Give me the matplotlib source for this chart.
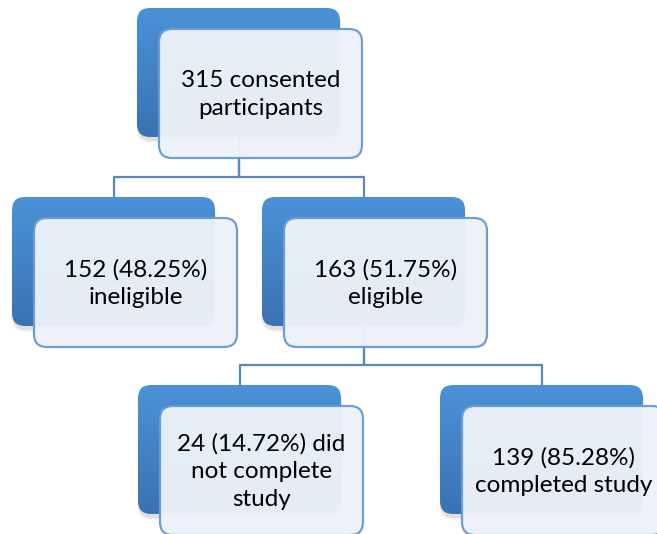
import numpy as np
import matplotlib
matplotlib.use('Agg')
import matplotlib.pyplot as plt
from matplotlib.patches import FancyBboxPatch
from matplotlib.colors import LinearSegmentedColormap

# flowchart content
labels = ['315 consented\nparticipants',
          '152 (48.25%)\nineligible',
          '163 (51.75%)\neligible',
          '24 (14.72%) did\nnot complete\nstudy',
          '139 (85.28%)\ncompleted study']
parents = [None, 0, 0, 2, 2]

# top-left corner of each blue back box (pixels)
box_x = [137, 12, 262, 138, 440]
box_y = [8, 197, 197, 385, 385]

W, H = 203, 129       # box size
DX, DY = 22, 21       # offset of the light front box
R = 13                # corner radius

W_PX, H_PX = 657, 534
fig = plt.figure(figsize=(W_PX / 100, H_PX / 100), dpi=100)
ax = fig.add_axes([0, 0, 1, 1])
ax.set_xlim(0, W_PX)
ax.set_ylim(H_PX, 0)
ax.axis('off')

blue_cmap = LinearSegmentedColormap.from_list('b', ['#4b92d8', '#3a72b2'])
grad = np.linspace(0, 1, 256).reshape(-1, 1)
line_col = '#5a87bf'

# connectors (drawn under the boxes)
for i, p in enumerate(parents):
    if p is None:
        continue
    px = box_x[p] + W / 2
    py = box_y[p] + H
    cx = box_x[i] + W / 2
    cy = box_y[i]
    mid = (box_y[p] + DY + H + cy) / 2 - 1
    ax.plot([px, px, cx, cx], [py, mid, mid, cy], color=line_col, lw=1.6,
            zorder=1, solid_capstyle='butt')

for i, txt in enumerate(labels):
    x0, y0 = box_x[i], box_y[i]
    # soft shadow
    for k, a in enumerate([0.09, 0.06, 0.03]):
        sh = FancyBboxPatch((x0 + 1 - k, y0 + 4 + k), W, H,
                            boxstyle=f'round,pad=0,rounding_size={R}',
                            fc='#555555', ec='none', alpha=a, zorder=2)
        ax.add_patch(sh)
    back = FancyBboxPatch((x0, y0), W, H,
                          boxstyle=f'round,pad=0,rounding_size={R}',
                          fc='none', ec='none', zorder=3)
    ax.add_patch(back)
    im = ax.imshow(grad, cmap=blue_cmap, aspect='auto',
                   extent=(x0, x0 + W, y0 + H, y0), zorder=3)
    im.set_clip_path(back)

    front = FancyBboxPatch((x0 + DX, y0 + DY), W, H,
                           boxstyle=f'round,pad=0,rounding_size={R}',
                           fc='#edf2f9', ec='#6b9ad0', lw=1.6, alpha=0.96,
                           zorder=4)
    ax.add_patch(front)
    ax.text(x0 + DX + W / 2, y0 + DY + H / 2 + 1, txt, ha='center',
            va='center', fontsize=17.5, family=['Lato', 'DejaVu Sans'],
            color='black', linespacing=1.38, zorder=5)

ax.set_xlim(0, W_PX)
ax.set_ylim(H_PX, 0)
fig.savefig('out.png', dpi=100)
